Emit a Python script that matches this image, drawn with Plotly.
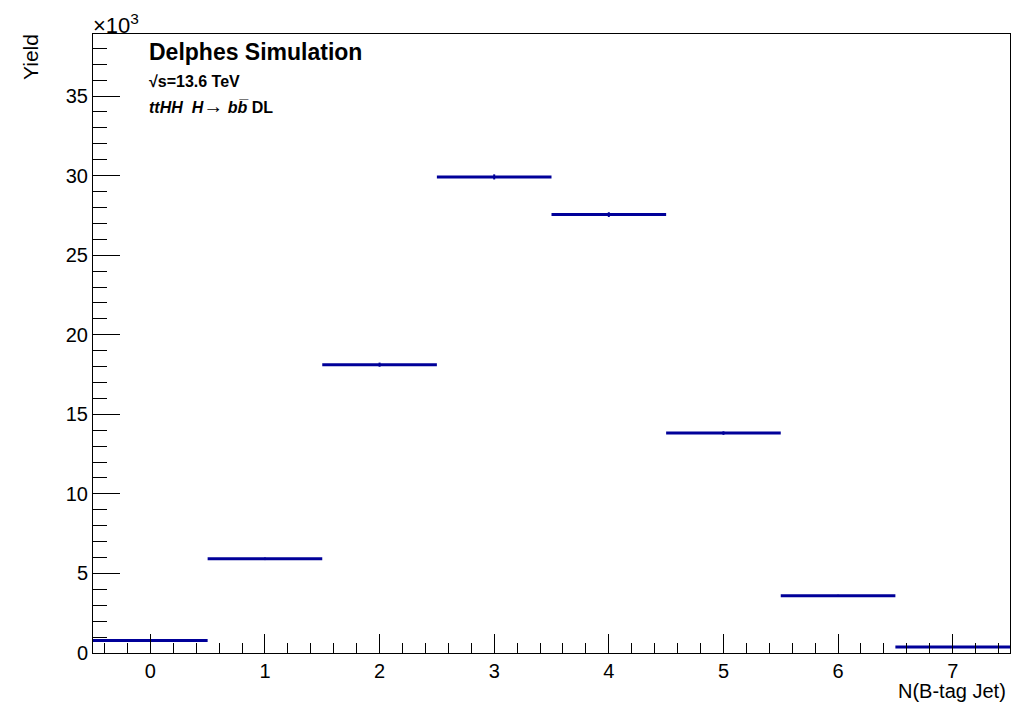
import plotly.graph_objects as go

# Data (yield in units of 10^3)
n_btag = [0, 1, 2, 3, 4, 5, 6, 7]
yield_k = [0.79, 5.92, 18.12, 29.92, 27.55, 13.82, 3.60, 0.37]
yield_err_k = [0.06, 0.08, 0.13, 0.16, 0.15, 0.11, 0.06, 0.03]
bin_half_width = [0.5] * 8
y_ticks = [0, 5, 10, 15, 20, 25, 30, 35]

blue = "#000099"
font = "Liberation Sans, Arial, Helvetica, sans-serif"

L, R, T, B = 93, 19, 34, 51
W, H = 1029, 704

fig = go.Figure()
fig.add_trace(go.Scatter(
    x=n_btag, y=yield_k, mode="markers",
    marker=dict(size=1, color=blue),
    error_x=dict(type="data", array=bin_half_width, color=blue, thickness=3, width=0),
    error_y=dict(type="data", array=yield_err_k, color=blue, thickness=2, width=0),
    showlegend=False, hoverinfo="x+y",
))

fig.update_layout(
    width=W, height=H,
    margin=dict(l=L, r=R, t=T, b=B),
    paper_bgcolor="white", plot_bgcolor="white",
    font=dict(family=font, size=20, color="black"),
    xaxis=dict(
        range=[-0.5, 7.5], tickmode="array", tickvals=n_btag,
        ticks="inside", ticklen=19, tickwidth=1, tickcolor="black",
        minor=dict(dtick=0.2, tick0=0, ticks="inside", ticklen=10, tickwidth=1, tickcolor="black"),
        showline=True, linecolor="black", linewidth=1, mirror=True,
        showgrid=False, zeroline=False,
        tickfont=dict(size=20),
    ),
    yaxis=dict(
        range=[0, 38.9], tickmode="array", tickvals=y_ticks,
        ticks="inside", ticklen=27, tickwidth=1, tickcolor="black",
        minor=dict(dtick=1, tick0=0, ticks="inside", ticklen=14, tickwidth=1, tickcolor="black"),
        showline=True, linecolor="black", linewidth=1, mirror=True,
        showgrid=False, zeroline=False,
        tickfont=dict(size=20),
    ),
)

pw, ph = W - L - R, H - T - B
def px(xp): return (xp - L) / pw
def py(yp): return (H - B - yp) / ph

annos = [
    dict(text="×10<sup>3</sup>", x=px(91), y=py(24), xanchor="left", yanchor="middle", font=dict(size=22)),
    dict(text="Yield", x=px(30), y=py(57), textangle=-90, xanchor="center", yanchor="middle", font=dict(size=21)),
    dict(text="N(B-tag Jet)", x=px(1008), y=py(691), xanchor="right", yanchor="middle", font=dict(size=20)),
    dict(text="<b>Delphes Simulation</b>", x=px(147), y=py(52), xanchor="left", yanchor="middle", font=dict(size=23)),
    dict(text="<b>√s=13.6 TeV</b>", x=px(147), y=py(81), xanchor="left", yanchor="middle", font=dict(size=16)),
    dict(text="<b><i>ttHH  H</i></b><span style='font-size:20px'>→</span><b><i> bb\u0305</i></b><b> DL</b>",
         x=px(147), y=py(106), xanchor="left", yanchor="middle", font=dict(size=16)),
]
for a in annos:
    fig.add_annotation(showarrow=False, xref="paper", yref="paper", **a)

fig.write_html("out.html", config={"displayModeBar": False},
               post_script="document.body.style.margin='0';document.body.style.padding='0';")
